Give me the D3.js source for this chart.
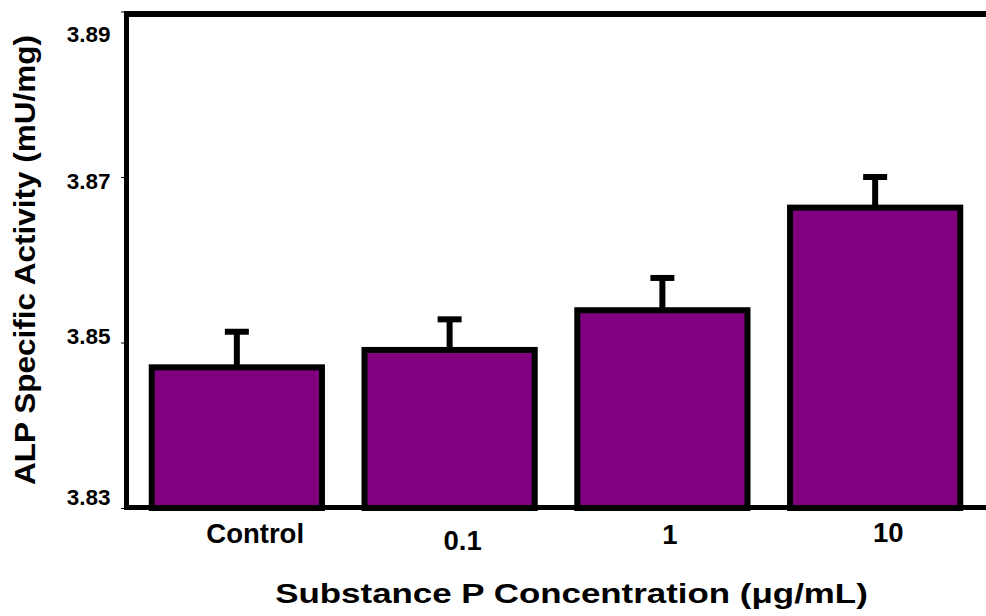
<!DOCTYPE html>
<html>
<head>
<meta charset="utf-8">
<script src="https://cdn.jsdelivr.net/npm/d3@7"></script>
<style>
  body { margin: 0; background: #fff; }
  svg { display: block; }
  text { font-family: Arial, "Liberation Sans", sans-serif; font-weight: bold; fill: #000; }
</style>
</head>
<body>
<div id="chart"></div>
<script>
// values
const categories = ["Control", "0.1", "1", "10"];
const means = [3.8470, 3.8491, 3.8539, 3.8663];
const errors = [0.0043, 0.0037, 0.0039, 0.0037];
const yTicks = [3.83, 3.85, 3.87, 3.89];

// label placement tweaks (the original labels sit a bit off their ticks)
const yLabelNudge = [-10.3, -5.8, 4.7, 23];
const xLabelNudge = [18.3, 13, 7.5, 13.2];
const xLabelBaseline = [35.3, 42, 36.3, 33.7];

const width = 986;
const height = 616;

const svg = d3.select("#chart")
              .append("svg")
              .attr("width", width)
              .attr("height", height);

const xScale = d3.scaleBand()
                 .domain(categories)
                 .range([126, 986])
                 .paddingInner(0.2)
                 .paddingOuter(0.121);

const yScale = d3.scaleLinear()
                 .domain([3.83, 3.89])
                 .range([508, 11.5]);

const base = yScale(3.83);

// bars
svg.selectAll("rect.bar")
   .data(categories)
   .enter()
   .append("rect")
    .attr("class", "bar")
    .attr("x", d => xScale(d))
    .attr("y", (d, i) => yScale(means[i]))
    .attr("width", xScale.bandwidth())
    .attr("height", (d, i) => base - yScale(means[i]))
    .attr("fill", "#800080")
    .attr("stroke", "#000")
    .attr("stroke-width", 6);

// error bars (upper only)
const errs = svg.selectAll("g.err")
                .data(categories)
                .enter()
                .append("g")
                 .attr("class", "err")
                 .attr("stroke", "#000")
                 .attr("stroke-width", 6);

errs.append("line")
    .attr("x1", d => xScale(d) + xScale.bandwidth() / 2)
    .attr("x2", d => xScale(d) + xScale.bandwidth() / 2)
    .attr("y1", (d, i) => yScale(means[i]))
    .attr("y2", (d, i) => yScale(means[i] + errors[i]));

errs.append("line")
    .attr("x1", d => xScale(d) + xScale.bandwidth() / 2 - 12)
    .attr("x2", d => xScale(d) + xScale.bandwidth() / 2 + 12)
    .attr("y1", (d, i) => yScale(means[i] + errors[i]))
    .attr("y2", (d, i) => yScale(means[i] + errors[i]));

// frame lines
svg.append("line")
   .attr("x1", 124).attr("x2", width)
   .attr("y1", 507.5).attr("y2", 507.5)
   .attr("stroke", "#000").attr("stroke-width", 5);

svg.append("line")
   .attr("x1", 124).attr("x2", width)
   .attr("y1", 14).attr("y2", 14)
   .attr("stroke", "#000").attr("stroke-width", 6);

svg.append("line")
   .attr("x1", 126.5).attr("x2", 126.5)
   .attr("y1", 11).attr("y2", 510)
   .attr("stroke", "#000").attr("stroke-width", 5);

// y axis ticks + labels
const yAxis = svg.append("g")
                 .attr("transform", "translate(126,0)")
                 .call(d3.axisLeft(yScale)
                         .tickValues(yTicks)
                         .tickFormat(d3.format(".2f"))
                         .tickSize(5)
                         .tickPadding(10.5));
yAxis.select(".domain").remove();
yAxis.selectAll("text")
     .attr("font-size", 22.5)
     .attr("y", (d, i) => yLabelNudge[i]);

// x axis labels
const xAxis = svg.append("g")
                 .attr("transform", "translate(0," + base + ")")
                 .call(d3.axisBottom(xScale).tickSize(0));
xAxis.select(".domain").remove();
xAxis.selectAll("text")
     .attr("font-size", 27.5)
     .attr("dy", null)
     .attr("x", (d, i) => xLabelNudge[i])
     .attr("y", (d, i) => xLabelBaseline[i]);

// axis titles, stretched sideways like the original
function stretchTo(sel, target, cx, cy, angle) {
  const w = sel.node().getComputedTextLength();
  sel.attr("transform", "translate(" + cx + "," + cy + ") rotate(" + angle + ") scale(" + (target / w) + ",1)");
}

const xTitle = svg.append("text")
                  .attr("text-anchor", "middle")
                  .attr("font-size", 28)
                  .text("Substance P Concentration (μg/mL)");
stretchTo(xTitle, 593, 571.5, 603, 0);

const yTitle = svg.append("text")
                  .attr("text-anchor", "middle")
                  .attr("font-size", 29)
                  .text("ALP Specific Activity (mU/mg)");
stretchTo(yTitle, 450, 35, 260, -90);
</script>
</body>
</html>
